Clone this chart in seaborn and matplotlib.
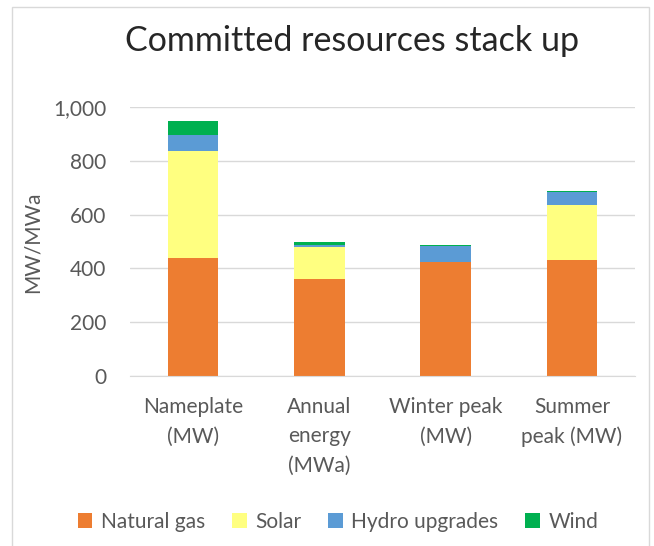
import pandas as pd
import numpy as np
import seaborn as sns
import matplotlib.pyplot as plt
from matplotlib.patches import Rectangle, Patch
from matplotlib.ticker import FuncFormatter

categories = ['Nameplate\n(MW)', 'Annual\nenergy\n(MWa)', 'Winter peak\n(MW)', 'Summer\npeak (MW)']
natural_gas = [440, 360, 425, 430]
solar = [395, 120, 0, 205]
hydro = [61, 8, 58, 50]
wind = [51, 12, 3, 3]
series = ['Natural gas', 'Solar', 'Hydro upgrades', 'Wind']
colors = ['#ED7D31', '#FFFF80', '#5B9BD5', '#00B050']

sns.set_style('white')
plt.rcParams['font.family'] = ['Lato', 'DejaVu Sans']
grey = '#595959'

df = pd.DataFrame({'category': categories, 'Natural gas': natural_gas,
                   'Solar': solar, 'Hydro upgrades': hydro, 'Wind': wind})
cum = df[series].cumsum(axis=1)
cum['category'] = df['category']

fig = plt.figure(figsize=(6.54, 5.46), dpi=100)
ax = fig.add_axes([130/654, 170/546, 505/654, 269/546])

# stacked bars: draw tallest first, then overlay lower layers
for s, c in reversed(list(zip(series, colors))):
    sns.barplot(data=cum, x='category', y=s, color=c, saturation=1,
                width=0.4, linewidth=0, ax=ax)

ax.set_ylim(0, 1000)
ax.set_yticks(range(0, 1001, 200))
ax.yaxis.set_major_formatter(FuncFormatter(lambda v, p: f'{int(v):,}'))
ax.grid(axis='y', color='#d9d9d9', linewidth=1)
ax.set_axisbelow(True)
sns.despine(ax=ax, left=True, top=True, right=True)
ax.spines['bottom'].set_color('#d9d9d9')
ax.set_xlabel('')
ax.set_ylabel('')
ax.tick_params(axis='y', labelsize=15, colors=grey, length=0, pad=17)
ax.tick_params(axis='x', labelsize=15, colors=grey, length=0, pad=15)
for t in ax.get_xticklabels():
    t.set_linespacing(1.6)
    t.set_multialignment('center')

fig.text(33/654, 1 - 242/546, 'MW/MWa', rotation=90, ha='center', va='center',
         fontsize=15, color=grey)
fig.text(352/654, 1 - 41/546, 'Committed resources stack up', ha='center',
         va='center', fontsize=24.5, color='#262626')

handles = [Patch(facecolor=c, edgecolor='none', label=s) for s, c in zip(series, colors)]
fig.legend(handles=handles, loc='center', bbox_to_anchor=(338/654, 1 - 522/546),
           ncol=4, frameon=False, fontsize=15, handlelength=0.7, handleheight=0.7,
           handletextpad=0.4, columnspacing=1.3, labelcolor=grey)

fig.patches.append(Rectangle((12/654, -0.02), 637/654, 1.02 - 7/546,
                             transform=fig.transFigure, fill=False,
                             edgecolor='#d9d9d9', linewidth=1))

fig.savefig('out.png', dpi=100)
